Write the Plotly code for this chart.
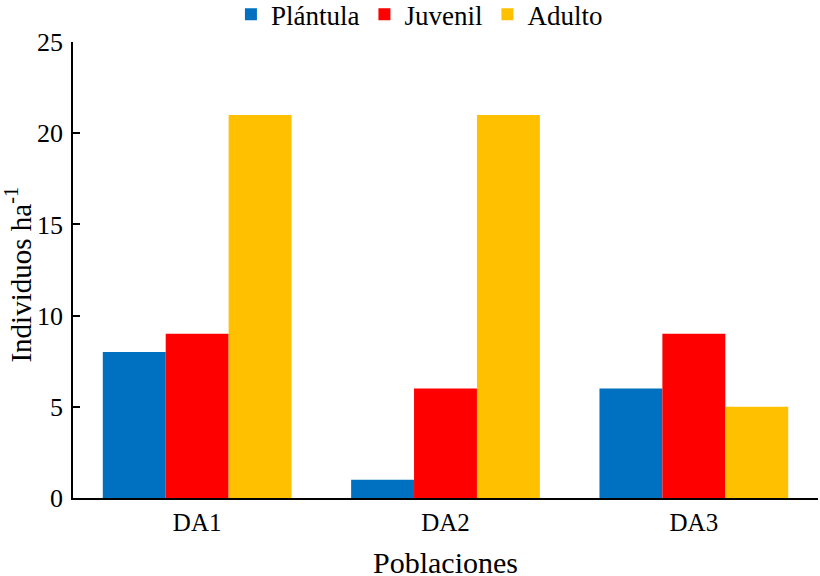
import plotly.graph_objects as go

categories = ["DA1", "DA2", "DA3"]
plantula = [8, 1, 6]
juvenil = [9, 6, 9]
adulto = [21, 21, 5]
series_names = ["Plántula", "Juvenil", "Adulto"]
colors = ["#0070C0", "#FF0000", "#FFC000"]

fig = go.Figure()
for name, vals, c in zip(series_names, [plantula, juvenil, adulto], colors):
    fig.add_trace(go.Bar(name=name, x=categories, y=vals, marker_color=c, marker_line_width=0))

font = "Liberation Serif, Times New Roman, serif"
fig.update_layout(
    width=820, height=576,
    barmode="group", bargap=0.24, bargroupgap=0,
    plot_bgcolor="white", paper_bgcolor="white",
    margin=dict(l=73, r=1.5, t=42, b=78, autoexpand=False),
    font=dict(family=font, color="black", size=26),
    legend=dict(orientation="h", x=0.465, xanchor="center", y=1.06, yanchor="middle",
                font=dict(size=27, family=font), itemwidth=30, traceorder="normal",
                tracegroupgap=0, bgcolor="rgba(0,0,0,0)"),
    xaxis=dict(showline=True, linecolor="black", linewidth=1.5, ticks="",
               ticklabelstandoff=1,
               tickfont=dict(size=25, family=font), automargin=False),
    yaxis=dict(range=[0, 25], dtick=5, showline=True, linecolor="black", linewidth=1.5,
               ticks="inside", ticklen=7, tickwidth=1.5, tickcolor="black",
               ticklabelstandoff=3,
               showgrid=False, zeroline=False, automargin=False,
               tickfont=dict(size=26, family=font)),
    annotations=[
        dict(text="Individuos ha<sup>-1</sup>", xref="paper", yref="paper",
             x=0, y=0.49, xanchor="center", yanchor="middle", xshift=-55,
             textangle=-90, showarrow=False,
             font=dict(size=29, family=font, color="black")),
        dict(text="Poblaciones", xref="paper", yref="paper",
             x=0.5, y=-0.142, xanchor="center", yanchor="middle",
             showarrow=False, font=dict(size=30, family=font, color="black")),
    ],
)
fig.write_html("out.html", config={"displayModeBar": False},
               post_script="document.body.style.margin='0px';")
